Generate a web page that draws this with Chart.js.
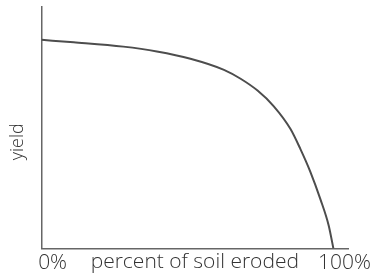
<!DOCTYPE html>
<html>
<head>
<meta charset="utf-8">
<script src="https://cdn.jsdelivr.net/npm/chart.js@4/dist/chart.umd.min.js"></script>
<style>
  html, body { margin: 0; padding: 0; background: #fff; }
  #wrap { width: 375px; height: 277px; }
</style>
</head>
<body>
<div id="wrap"><canvas id="yieldChart"></canvas></div>
<script>
// percent of soil eroded vs yield
const erodedPct = [0, 11, 28, 39.5, 51, 62.5, 68.2, 74, 79.5, 85.3, 88.7, 92.1, 95.5, 98.4, 100];
const yieldValues = [86.4, 85.4, 83.6, 81.6, 78.6, 74.0, 70.3, 65.4, 59.0, 49.5, 41.2, 31.8, 20.6, 9.5, 0];
const tickValues = [0, 100];
const tickLabels = ['0%', '100%'];

const textFont = "'Open Sans', 'Liberation Sans', sans-serif";

const ctx = document.getElementById('yieldChart').getContext('2d');
new Chart(ctx, {
    type: 'line',
    data: {
        datasets: [{
            data: erodedPct.map((x, i) => ({ x: x, y: yieldValues[i] })),
            borderColor: '#4d4d4d',
            borderWidth: 2,
            pointRadius: 0,
            fill: false,
            cubicInterpolationMode: 'monotone'
        }]
    },
    options: {
        responsive: true,
        maintainAspectRatio: false,
        animation: false,
        layout: { padding: { top: 7, right: 27, bottom: 0, left: 0 } },
        plugins: { legend: { display: false }, tooltip: { enabled: false } },
        scales: {
            x: {
                type: 'linear',
                min: 0,
                max: 105,
                grid: { display: false },
                border: { display: true, color: '#666', width: 1.5 },
                afterBuildTicks: (axis) => { axis.ticks = tickValues.map(v => ({ value: v })); },
                ticks: {
                    color: '#333',
                    padding: -6,
                    labelOffset: 11,
                    maxRotation: 0,
                    font: { family: textFont, size: 21, weight: 300 },
                    callback: (v) => tickLabels[tickValues.indexOf(v)]
                },
                title: {
                    display: true,
                    text: 'percent of soil eroded',
                    color: '#333',
                    font: { family: textFont, size: 21, weight: 300 },
                    padding: { top: -20, bottom: 2 }
                }
            },
            y: {
                min: 0,
                max: 100,
                grid: { display: false },
                border: { display: true, color: '#666', width: 1.5 },
                ticks: { display: false },
                title: {
                    display: true,
                    // trailing spaces nudge the rotated label down a bit, like the original
                    text: 'yield      ',
                    color: '#333',
                    font: { family: textFont, size: 18, weight: 300 },
                    padding: { top: 7, bottom: 5 }
                }
            }
        }
    }
});
</script>
</body>
</html>
